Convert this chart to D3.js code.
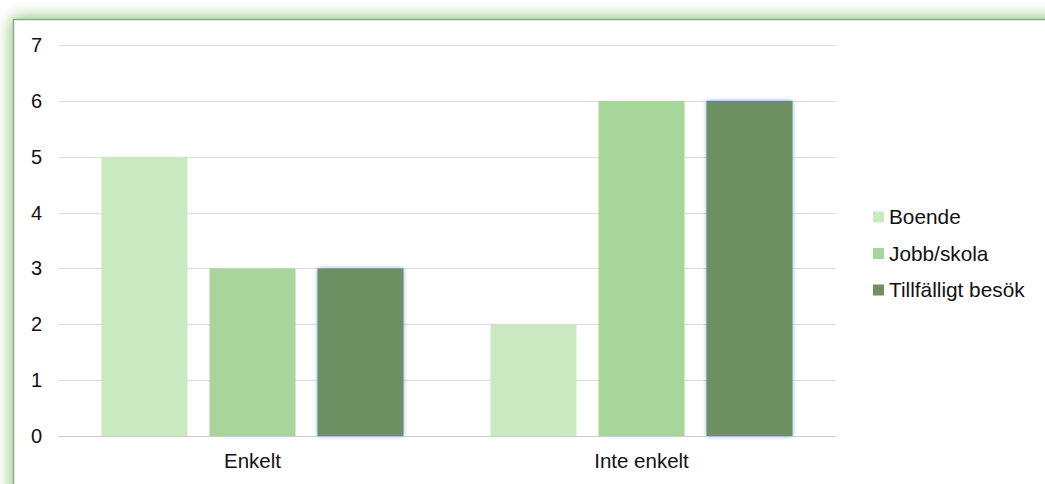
<!DOCTYPE html>
<html><head>
<meta charset="utf-8">
<title>Enkelt / Inte enkelt</title>
<style>
  body {margin:0; background:#fff;}
  text {font-family: "Liberation Sans", Arial, Helvetica, sans-serif; fill:#111;}
</style>
</head>
<body>
<script src="https://d3js.org/d3.v7.min.js"></script>
<script>
var width = 1045, height = 484;

// data
var categories = ["Enkelt", "Inte enkelt"];
var series = ["Boende", "Jobb/skola", "Tillfälligt besök"];
var boende = [5, 2];
var jobbSkola = [3, 6];
var tillfalligt = [3, 6];
var yTicks = [0, 1, 2, 3, 4, 5, 6, 7];
var colors = ["#cbe9c1", "#a8d59a", "#6e8f62"];

var values = [boende, jobbSkola, tillfalligt];

var svg = d3.select("body").append("svg")
    .attr("width", width)
    .attr("height", height);

var defs = svg.append("defs");
// green glow round the frame
var glow = defs.append("filter").attr("id", "glow")
    .attr("x", "-5%").attr("y", "-10%").attr("width", "110%").attr("height", "120%");
glow.append("feGaussianBlur").attr("in", "SourceAlpha").attr("stdDeviation", 8).attr("result", "b");
glow.append("feFlood").attr("flood-color", "#a9d49b").attr("flood-opacity", 1);
glow.append("feComposite").attr("in2", "b").attr("operator", "in").attr("result", "s");
var gm = glow.append("feMerge");
gm.append("feMergeNode").attr("in", "s");
gm.append("feMergeNode").attr("in", "s");
gm.append("feMergeNode").attr("in", "SourceGraphic");

// faint blue edge on the dark bars
defs.append("filter").attr("id", "blueEdge")
    .attr("x", "-20%").attr("y", "-5%").attr("width", "140%").attr("height", "110%")
  .append("feDropShadow")
    .attr("dx", 0).attr("dy", 0).attr("stdDeviation", 2)
    .attr("flood-color", "#5a9be0").attr("flood-opacity", 0.8);

// frame
svg.append("rect")
    .attr("x", 13.5).attr("y", 19.5)
    .attr("width", 1100).attr("height", 600)
    .attr("fill", "#fff")
    .attr("stroke", "#8fab86").attr("stroke-width", 1.5)
    .attr("filter", "url(#glow)");

var x0 = d3.scaleBand().domain(categories).range([58, 836]);
var x1 = d3.scaleBand().domain(series)
    .range([43.5, x0.bandwidth() - 43.5])
    .paddingInner(22 / 108);
var y = d3.scaleLinear().domain([0, 7]).range([436, 45]);

// grid
svg.append("g").selectAll("line")
    .data(yTicks)
    .enter().append("line")
    .attr("x1", 58).attr("x2", 836)
    .attr("y1", function(d){ return Math.round(y(d)) + 0.5; })
    .attr("y2", function(d){ return Math.round(y(d)) + 0.5; })
    .attr("stroke", function(d){ return d === 0 ? "#cfcfcf" : "#dcdcdc"; })
    .attr("stroke-width", 1.2);

// y labels
svg.append("g").selectAll("text")
    .data(yTicks)
    .enter().append("text")
    .attr("x", 42)
    .attr("y", function(d){ return y(d); })
    .attr("text-anchor", "end")
    .attr("dy", "0.35em")
    .attr("font-size", 20)
    .text(function(d){ return d; });

// bars
var groups = svg.append("g").selectAll("g")
    .data(series)
    .enter().append("g");

groups.selectAll("rect")
    .data(function(s, si){
        return categories.map(function(c, ci){
            return {cat: c, ser: s, si: si, v: values[si][ci]};
        });
    })
    .enter().append("rect")
    .attr("x", function(d){ return x0(d.cat) + x1(d.ser); })
    .attr("y", function(d){ return y(d.v); })
    .attr("width", x1.bandwidth())
    .attr("height", function(d){ return y(0) - y(d.v); })
    .attr("fill", function(d){ return colors[d.si]; })
    .attr("filter", function(d){ return d.si === 2 ? "url(#blueEdge)" : null; });

// category labels
svg.append("g").selectAll("text")
    .data(categories)
    .enter().append("text")
    .attr("x", function(d){ return x0(d) + x0.bandwidth() / 2; })
    .attr("y", 468)
    .attr("text-anchor", "middle")
    .attr("font-size", 20.5)
    .text(function(d){ return d; });

// legend
var legend = svg.append("g").selectAll("g")
    .data(series)
    .enter().append("g")
    .attr("transform", function(d, i){ return "translate(873," + (217 + i * 36.5) + ")"; });

legend.append("rect")
    .attr("x", 0).attr("y", -5.5)
    .attr("width", 11).attr("height", 11)
    .attr("fill", function(d, i){ return colors[i]; });

legend.append("text")
    .attr("x", 16)
    .attr("y", 0)
    .attr("dy", "0.35em")
    .attr("font-size", 20.8)
    .text(function(d){ return d; });
</script>
</body></html>
